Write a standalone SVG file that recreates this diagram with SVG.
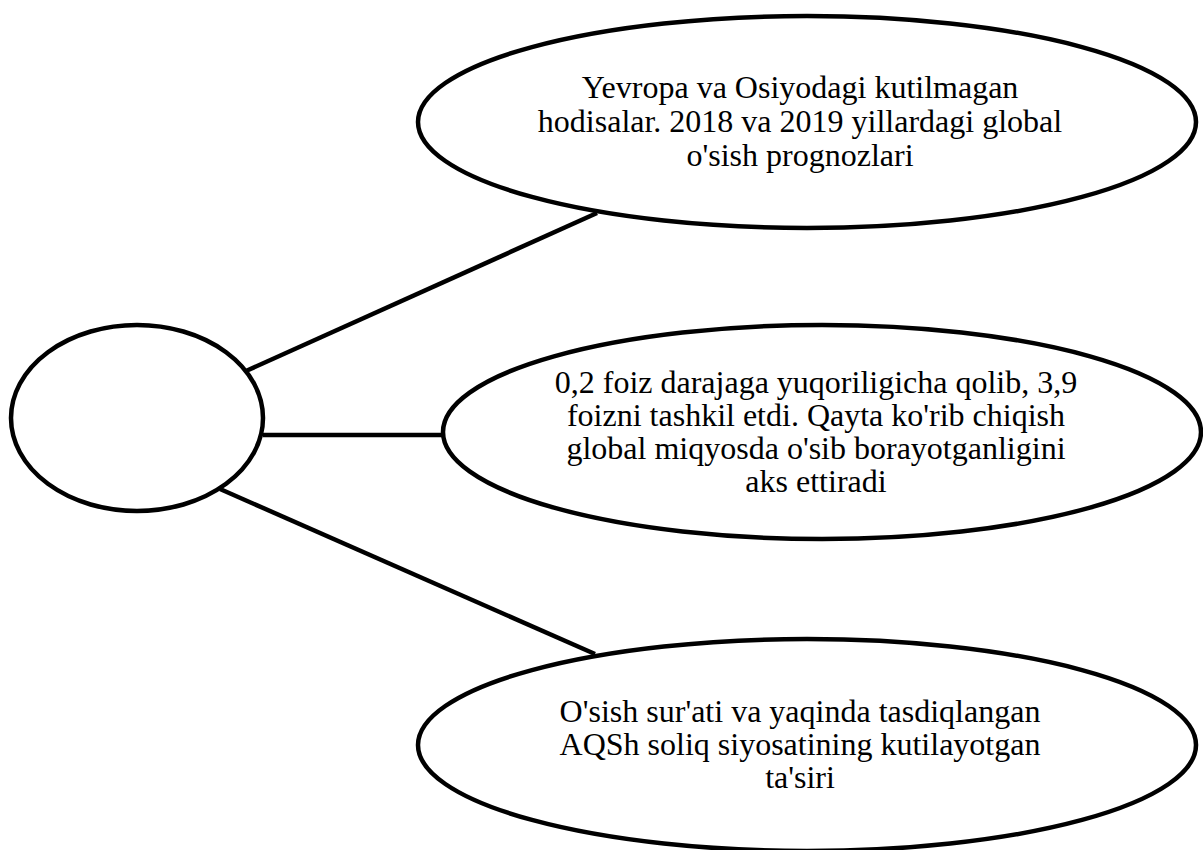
<svg xmlns="http://www.w3.org/2000/svg" width="1203" height="850" viewBox="0 0 1203 850">
<style>
.node { fill: #ffffff; stroke: #000000; stroke-width: 4.5; }
.conn { stroke: #000000; stroke-width: 4.5; fill: none; }
.lbl { font-family: 'Liberation Serif', 'Times New Roman', serif; font-size: 32px; fill: #000000; text-anchor: middle; }
</style>
<rect x="0" y="0" width="1203" height="850" fill="#ffffff"/>
<g id="connectors">
<line class="conn" x1="246" y1="371" x2="597" y2="213"/>
<line class="conn" x1="263" y1="435" x2="446" y2="435"/>
<line class="conn" x1="220" y1="489" x2="595" y2="654"/>
</g>
<g id="node-center">
<ellipse class="node" cx="137" cy="418" rx="126" ry="93"/>
</g>
<g id="node-top" font-family="Liberation Serif, serif">
<ellipse class="node" cx="807" cy="122" rx="389" ry="106"/>
<text class="lbl" x="800" y="98">Yevropa va Osiyodagi kutilmagan</text>
<text class="lbl" x="800" y="132">hodisalar. 2018 va 2019 yillardagi global</text>
<text class="lbl" x="800" y="166">o'sish prognozlari</text>
</g>
<g id="node-middle" font-family="Liberation Serif, serif">
<ellipse class="node" cx="822" cy="432" rx="379" ry="107"/>
<text class="lbl" x="816" y="393">0,2 foiz darajaga yuqoriligicha qolib, 3,9</text>
<text class="lbl" x="816" y="426">foizni tashkil etdi. Qayta ko'rib chiqish</text>
<text class="lbl" x="816" y="459">global miqyosda o'sib borayotganligini</text>
<text class="lbl" x="816" y="492">aks ettiradi</text>
</g>
<g id="node-bottom" font-family="Liberation Serif, serif">
<ellipse class="node" cx="807" cy="745" rx="389" ry="106"/>
<text class="lbl" x="800" y="722">O'sish sur'ati va yaqinda tasdiqlangan</text>
<text class="lbl" x="800" y="755">AQSh soliq siyosatining kutilayotgan</text>
<text class="lbl" x="800" y="788">ta'siri</text>
</g>
</svg>
